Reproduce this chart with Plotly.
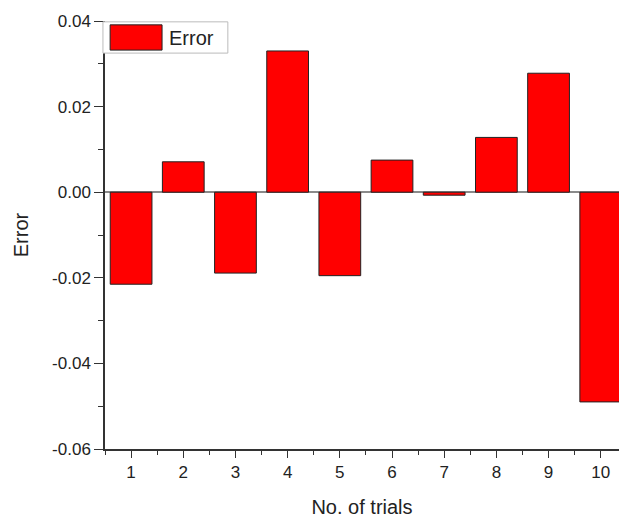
import plotly.graph_objects as go

trials = [1, 2, 3, 4, 5, 6, 7, 8, 9, 10]
errors = [-0.0215, 0.0071, -0.0189, 0.0330, -0.0195, 0.0075, -0.0007, 0.0128, 0.0278, -0.0490]
y_tick_vals = [-0.06, -0.04, -0.02, 0.00, 0.02, 0.04]
y_tick_text = ["-0.06", "-0.04", "-0.02", "0.00", "0.02", "0.04"]
series_name = "Error"
x_title = "No. of trials"
y_title = "Error"

FONT = "Liberation Sans, Arial, sans-serif"
AX = "#333333"
X_RANGE = [0.5, 10.35]

fig = go.Figure()
fig.add_trace(go.Bar(
    x=trials, y=errors, name=series_name, width=0.8,
    marker=dict(color="#ff0000", line=dict(color="#222222", width=1)),
    showlegend=False,
))

fig.update_layout(
    width=619, height=520,
    margin=dict(l=105, r=0, t=21, b=71, autoexpand=False),
    plot_bgcolor="white", paper_bgcolor="white",
    font=dict(family=FONT, size=17, color="#222222"),
    xaxis=dict(
        range=X_RANGE, tickmode="linear", tick0=1, dtick=1,
        ticks="outside", ticklen=7, tickwidth=1.2, tickcolor=AX,
        minor=dict(ticks="outside", ticklen=4, tickwidth=1, tickcolor=AX, dtick=0.5, tick0=0.5),
        showline=True, linecolor=AX, linewidth=1.5, showgrid=False, zeroline=False,
        title=dict(text=x_title, font=dict(size=20), standoff=19),
        tickfont=dict(size=17), automargin=False,
    ),
    xaxis2=dict(
        overlaying="x", side="top", matches="x", anchor="y",
        tickmode="array", tickvals=[0.5 + i for i in range(11)],
        ticks="inside", ticklen=6, tickwidth=1, tickcolor=AX,
        showticklabels=False, showline=True, linecolor=AX, linewidth=1.5,
        showgrid=False, zeroline=False, range=X_RANGE, automargin=False,
    ),
    yaxis=dict(
        range=[-0.06, 0.04], tickmode="array", tickvals=y_tick_vals, ticktext=y_tick_text,
        ticks="outside", ticklen=9, tickwidth=1.2, tickcolor=AX,
        minor=dict(ticks="outside", ticklen=5, tickwidth=1, tickcolor=AX,
                   tickmode="linear", tick0=-0.06, dtick=0.01),
        showline=True, linecolor=AX, linewidth=1.5, showgrid=False,
        zeroline=True, zerolinecolor="#8a8a8a", zerolinewidth=1.5,
        title=dict(text=y_title, font=dict(size=20), standoff=18),
        tickfont=dict(size=17), automargin=False,
    ),
    bargap=0.2,
)

# custom legend box
fig.add_shape(type="rect", xref="paper", yref="paper",
              x0=-0.004, x1=0.239, y0=0.925, y1=0.998,
              line=dict(color="#bbbbbb", width=1), fillcolor="white", layer="above")
fig.add_shape(type="rect", xref="paper", yref="paper",
              x0=0.010, x1=0.111, y0=0.932, y1=0.991,
              line=dict(color="#222222", width=1), fillcolor="#ff0000", layer="above")
fig.add_annotation(text=series_name, xref="paper", yref="paper", x=0.121, y=0.960,
                   xanchor="left", yanchor="middle", showarrow=False,
                   font=dict(size=20, family=FONT, color="#222222"))

fig.write_html("out.html", config={"displayModeBar": False},
               post_script="document.body.style.margin='0';document.body.style.overflow='hidden';")
